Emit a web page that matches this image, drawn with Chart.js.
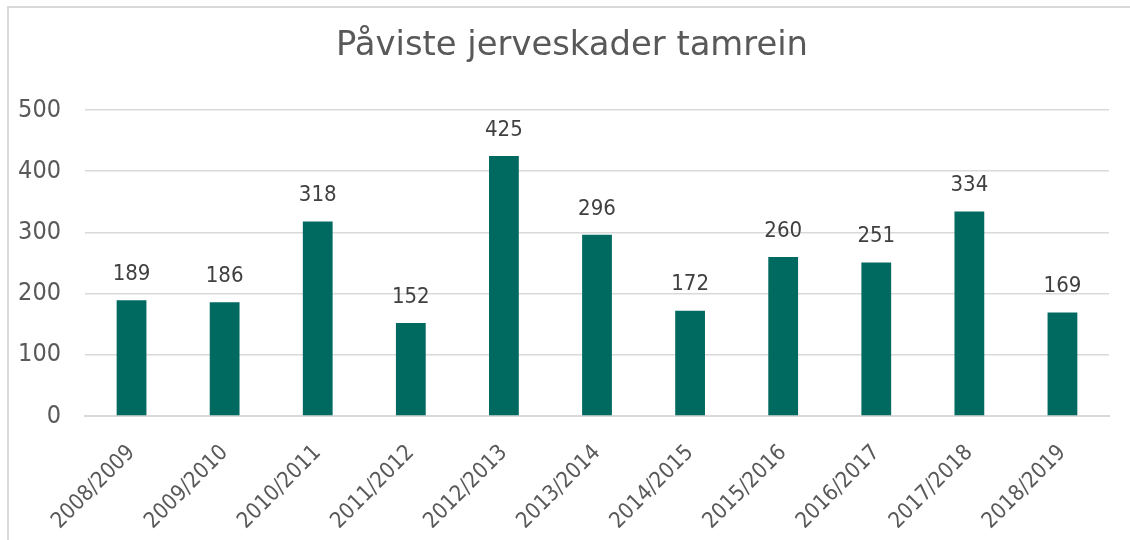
<!DOCTYPE html>
<html>
<head>
<meta charset="utf-8">
<script src="https://cdn.jsdelivr.net/npm/chart.js@4"></script>
<style>
  body { margin: 0; background: #fff; }
  #wrap { width: 1130px; height: 540px; }
</style>
</head>
<body>
<div id="wrap"><canvas id="myChart" width="1130" height="540"></canvas></div>
<script>
"use strict";

const fontFam = "'DejaVu Sans Condensed', 'DejaVu Sans', sans-serif";
const titleFam = "'DejaVu Sans', sans-serif";

const chartTitle = 'Påviste jerveskader tamrein';
const seasons = [
  '2008/2009', '2009/2010', '2010/2011', '2011/2012', '2012/2013', '2013/2014',
  '2014/2015', '2015/2016', '2016/2017', '2017/2018', '2018/2019'
];
const skader = [189, 186, 318, 152, 425, 296, 172, 260, 251, 334, 169];
const yTicks = [0, 100, 200, 300, 400, 500];

// white background, frame and the title (placed like in excel)
const framePlugin = {
  id: 'frame',
  beforeDraw(chart) {
    const ctx = chart.ctx;
    ctx.save();
    ctx.fillStyle = '#ffffff';
    ctx.fillRect(0, 0, chart.width, chart.height);
    ctx.strokeStyle = '#d9d9d9';
    ctx.lineWidth = 2;
    ctx.strokeRect(8, 7, 1300, 700);
    ctx.restore();
  },
  afterDraw(chart) {
    const ctx = chart.ctx;
    ctx.save();
    ctx.font = '33.8px ' + titleFam;
    ctx.fillStyle = '#595959';
    ctx.textAlign = 'center';
    ctx.textBaseline = 'middle';
    ctx.fillText(chartTitle, 572, 46);
    ctx.restore();
  }
};

// value over each bar
const valuePlugin = {
  id: 'values',
  afterDatasetsDraw(chart) {
    const ctx = chart.ctx;
    const meta = chart.getDatasetMeta(0);
    ctx.save();
    ctx.font = '22px ' + fontFam;
    ctx.fillStyle = '#404040';
    ctx.textAlign = 'center';
    ctx.textBaseline = 'bottom';
    meta.data.forEach(function (bar, i) {
      ctx.fillText(skader[i], bar.x, bar.y - 15);
    });
    ctx.restore();
  }
};

const data = {
  labels: seasons,
  datasets: [{
    label: chartTitle,
    data: skader,
    backgroundColor: '#006a60',
    categoryPercentage: 1,
    barPercentage: 0.32
  }]
};

const config = {
  type: 'bar',
  data: data,
  options: {
    responsive: false,
    animation: false,
    layout: { padding: { left: 0, right: 21, top: 110, bottom: 0 } },
    plugins: {
      legend: { display: false },
      tooltip: { enabled: false },
      title: { display: false }
    },
    scales: {
      y: {
        min: 0,
        max: 500,
        afterBuildTicks(scale) {
          scale.ticks = yTicks.map(function (v) { return { value: v }; });
        },
        afterFit(scale) { scale.width = 85; },
        border: { display: false },
        grid: { color: '#d9d9d9', lineWidth: 1.5, drawTicks: false },
        ticks: {
          color: '#595959',
          padding: 24,
          font: { family: fontFam, size: 25 }
        }
      },
      x: {
        afterFit(scale) { scale.height = 124; },
        grid: { display: false },
        border: { color: '#d9d9d9', width: 2 },
        ticks: {
          color: '#595959',
          minRotation: 45,
          maxRotation: 45,
          padding: 16,
          font: { family: fontFam, size: 22 }
        }
      }
    }
  },
  plugins: [framePlugin, valuePlugin]
};

const myChart = new Chart(document.getElementById('myChart'), config);
</script>
</body>
</html>
